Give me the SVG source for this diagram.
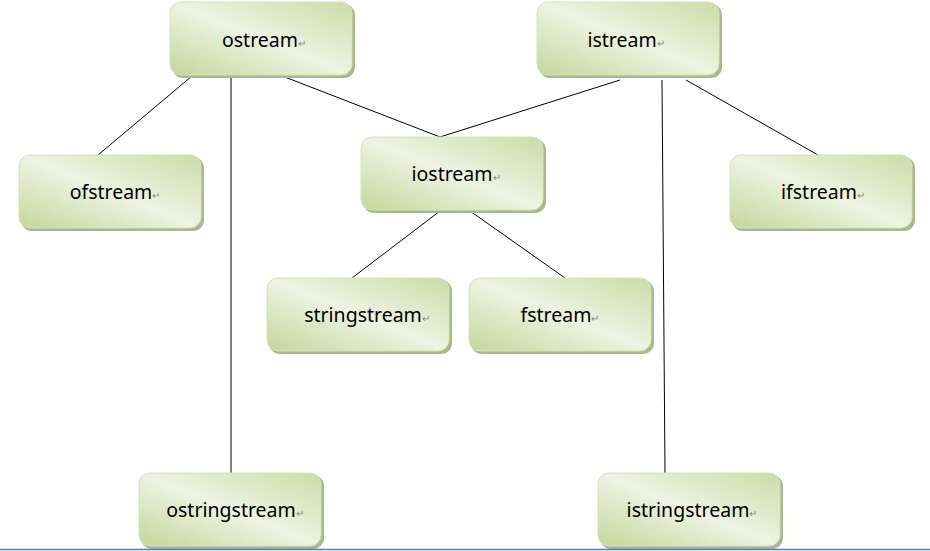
<svg xmlns="http://www.w3.org/2000/svg" width="930" height="551" viewBox="0 0 930 551">
<defs>
<linearGradient id="g2" x1="0" y1="1" x2="1" y2="0">
<stop offset="0" stop-color="#c3d69b"/>
<stop offset="0.5" stop-color="#eef3e2"/>
<stop offset="1" stop-color="#cadca6"/>
</linearGradient>
</defs>
<style>
.sh{fill:#a9b98c;}
.bx{fill:url(#g2);stroke:#d6e2bd;stroke-width:1;}
.t{font-family:"Noto Sans","Liberation Sans",Arial,sans-serif;font-size:19.5px;fill:#000;text-anchor:middle;}
.r{font-size:10px;fill:#8a8a8a;}
.c{stroke:#000;stroke-width:1;fill:none;}
</style>
<rect width="930" height="551" fill="#fff"/>
<g id="connectors">
<line class="c" x1="192" y1="76" x2="98" y2="155"/>
<line class="c" x1="231" y1="76" x2="231" y2="473"/>
<line class="c" x1="277" y1="74" x2="440" y2="137"/>
<line class="c" x1="620" y1="80" x2="440" y2="137"/>
<line class="c" x1="662" y1="80" x2="665" y2="473"/>
<line class="c" x1="686" y1="80" x2="818" y2="155"/>
<line class="c" x1="440" y1="211" x2="352" y2="278"/>
<line class="c" x1="470" y1="211" x2="565" y2="278"/>
</g>
<g id="ostream">
<rect class="sh" x="172" y="4" width="183" height="74" rx="11"/>
<rect class="bx" x="170" y="2" width="182" height="73" rx="11"/>
<text class="t" x="264" y="47">ostream<tspan class="r">↵</tspan></text>
</g>
<g id="istream">
<rect class="sh" x="539" y="4" width="183" height="74" rx="11"/>
<rect class="bx" x="537" y="2" width="182" height="73" rx="11"/>
<text class="t" x="626" y="47">istream<tspan class="r">↵</tspan></text>
</g>
<g id="ofstream">
<rect class="sh" x="21" y="157" width="183" height="74" rx="11"/>
<rect class="bx" x="19" y="155" width="182" height="73" rx="11"/>
<text class="t" x="115" y="199">ofstream<tspan class="r">↵</tspan></text>
</g>
<g id="iostream">
<rect class="sh" x="363" y="139" width="183" height="74" rx="11"/>
<rect class="bx" x="361" y="137" width="182" height="73" rx="11"/>
<text class="t" x="456" y="181">iostream<tspan class="r">↵</tspan></text>
</g>
<g id="ifstream">
<rect class="sh" x="732" y="157" width="183" height="74" rx="11"/>
<rect class="bx" x="730" y="155" width="182" height="73" rx="11"/>
<text class="t" x="823" y="199">ifstream<tspan class="r">↵</tspan></text>
</g>
<g id="stringstream">
<rect class="sh" x="269" y="280" width="183" height="74" rx="11"/>
<rect class="bx" x="267" y="278" width="182" height="73" rx="11"/>
<text class="t" x="367" y="322">stringstream<tspan class="r">↵</tspan></text>
</g>
<g id="fstream">
<rect class="sh" x="471" y="280" width="183" height="74" rx="11"/>
<rect class="bx" x="469" y="278" width="182" height="73" rx="11"/>
<text class="t" x="560" y="322">fstream<tspan class="r">↵</tspan></text>
</g>
<g id="ostringstream">
<rect class="sh" x="141" y="475" width="183" height="74" rx="11"/>
<rect class="bx" x="139" y="473" width="182" height="73" rx="11"/>
<text class="t" x="235" y="517">ostringstream<tspan class="r">↵</tspan></text>
</g>
<g id="istringstream">
<rect class="sh" x="600" y="475" width="183" height="74" rx="11"/>
<rect class="bx" x="598" y="473" width="182" height="73" rx="11"/>
<text class="t" x="692" y="517">istringstream<tspan class="r">↵</tspan></text>
</g>
<line x1="0" y1="549.5" x2="930" y2="549.5" stroke="#4f81bd" stroke-width="1.5"/>
</svg>
